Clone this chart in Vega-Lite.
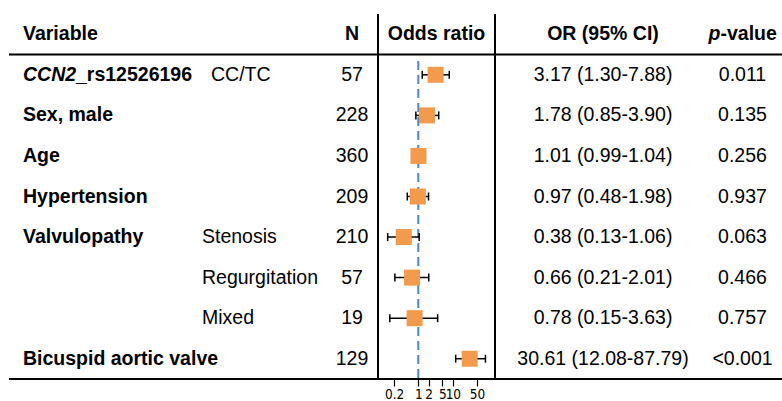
{
  "$schema": "https://vega.github.io/schema/vega-lite/v6.json",
  "padding": {"left": 8, "top": 13, "right": 0, "bottom": 0},
  "autosize": {"type": "pad"},
  "spacing": 0,
  "bounds": "flush",
  "config": {
    "view": {"stroke": null},
    "font": "Liberation Sans",
    "text": {"font": "Liberation Sans", "fontSize": 19.5, "baseline": "middle", "color": "#000"},
    "axisX": {"labelFontSize": 13.5, "labelColor": "#000", "labelFont": "Liberation Sans Narrow, DejaVu Sans Condensed, Liberation Sans", "tickColor": "#000", "tickSize": 7, "tickWidth": 1.2, "labelPadding": 1, "grid": false, "domain": false, "title": null, "labelFlush": false, "labelOverlap": false}
  },
  "datasets": {
    "rows": [
      {"row": 1, "lab": "", "it": "CCN2", "suf": "_rs12526196", "sub": "", "sub2": "CC/TC", "n": "57", "or": 3.17, "lo": 1.30, "hi": 7.88, "ci": "3.17 (1.30-7.88)", "p": "0.011"},
      {"row": 2, "lab": "Sex, male", "it": "", "suf": "", "sub": "", "sub2": "", "n": "228", "or": 1.78, "lo": 0.85, "hi": 3.90, "ci": "1.78 (0.85-3.90)", "p": "0.135"},
      {"row": 3, "lab": "Age", "it": "", "suf": "", "sub": "", "sub2": "", "n": "360", "or": 1.01, "lo": 0.99, "hi": 1.04, "ci": "1.01 (0.99-1.04)", "p": "0.256"},
      {"row": 4, "lab": "Hypertension", "it": "", "suf": "", "sub": "", "sub2": "", "n": "209", "or": 0.97, "lo": 0.48, "hi": 1.98, "ci": "0.97 (0.48-1.98)", "p": "0.937"},
      {"row": 5, "lab": "Valvulopathy", "it": "", "suf": "", "sub": "Stenosis", "sub2": "", "n": "210", "or": 0.38, "lo": 0.13, "hi": 1.06, "ci": "0.38 (0.13-1.06)", "p": "0.063"},
      {"row": 6, "lab": "", "it": "", "suf": "", "sub": "Regurgitation", "sub2": "", "n": "57", "or": 0.66, "lo": 0.21, "hi": 2.01, "ci": "0.66 (0.21-2.01)", "p": "0.466"},
      {"row": 7, "lab": "", "it": "", "suf": "", "sub": "Mixed", "sub2": "", "n": "19", "or": 0.78, "lo": 0.15, "hi": 3.63, "ci": "0.78 (0.15-3.63)", "p": "0.757"},
      {"row": 8, "lab": "Bicuspid aortic valve", "it": "", "suf": "", "sub": "", "sub2": "", "n": "129", "or": 30.61, "lo": 12.08, "hi": 87.79, "ci": "30.61 (12.08-87.79)", "p": "<0.001"}
    ]
  },
  "hconcat": [
    {
      "width": 187, "height": 365,
      "data": {"name": "rows"},
      "layer": [
        {"data": {"values": [{"h": "Variable"}]}, "mark": {"type": "text", "align": "left", "dx": 14, "fontWeight": "bold"},
         "encoding": {"x": {"value": 0}, "y": {"datum": 0, "type": "quantitative", "scale": {"domain": [-0.5, 8.5], "reverse": true, "nice": false, "zero": false}, "axis": null}, "text": {"field": "h"}}},
        {"mark": {"type": "text", "align": "left", "dx": 14, "fontWeight": "bold"},
         "encoding": {"x": {"value": 0}, "y": {"field": "row", "type": "quantitative", "axis": null}, "text": {"field": "lab"}}},
        {"mark": {"type": "text", "align": "left", "dx": 14, "fontWeight": "bold", "fontStyle": "italic"},
         "encoding": {"x": {"value": 0}, "y": {"field": "row", "type": "quantitative", "axis": null}, "text": {"field": "it"}}},
        {"mark": {"type": "text", "align": "left", "dx": 67, "fontWeight": "bold"},
         "encoding": {"x": {"value": 0}, "y": {"field": "row", "type": "quantitative", "axis": null}, "text": {"field": "suf"}}},
        {"data": {"values": [{}]}, "mark": {"type": "rule", "color": "#000", "strokeWidth": 2},
         "encoding": {"x": {"value": 0}, "x2": {"value": "width"}, "y": {"datum": 0.5, "type": "quantitative", "axis": null}}},
        {"data": {"values": [{}]}, "mark": {"type": "rule", "color": "#000", "strokeWidth": 2},
         "encoding": {"x": {"value": 0}, "x2": {"value": "width"}, "y": {"datum": 8.5, "type": "quantitative", "axis": null}}}
      ]
    },
    {
      "width": 130, "height": 365,
      "data": {"name": "rows"},
      "layer": [
        {"mark": {"type": "text", "align": "left", "dx": 6},
         "encoding": {"x": {"value": 0}, "y": {"field": "row", "type": "quantitative", "scale": {"domain": [-0.5, 8.5], "reverse": true, "nice": false, "zero": false}, "axis": null}, "text": {"field": "sub"}}},
        {"mark": {"type": "text", "align": "left", "dx": 15},
         "encoding": {"x": {"value": 0}, "y": {"field": "row", "type": "quantitative", "axis": null}, "text": {"field": "sub2"}}},
        {"data": {"values": [{}]}, "mark": {"type": "rule", "color": "#000", "strokeWidth": 2},
         "encoding": {"x": {"value": 0}, "x2": {"value": "width"}, "y": {"datum": 0.5, "type": "quantitative", "axis": null}}},
        {"data": {"values": [{}]}, "mark": {"type": "rule", "color": "#000", "strokeWidth": 2},
         "encoding": {"x": {"value": 0}, "x2": {"value": "width"}, "y": {"datum": 8.5, "type": "quantitative", "axis": null}}}
      ]
    },
    {
      "width": 52, "height": 365,
      "data": {"name": "rows"},
      "layer": [
        {"data": {"values": [{"h": "N"}]}, "mark": {"type": "text", "fontWeight": "bold"},
         "encoding": {"y": {"datum": 0, "type": "quantitative", "scale": {"domain": [-0.5, 8.5], "reverse": true, "nice": false, "zero": false}, "axis": null}, "text": {"field": "h"}}},
        {"mark": {"type": "text"},
         "encoding": {"y": {"field": "row", "type": "quantitative", "axis": null}, "text": {"field": "n"}}},
        {"data": {"values": [{}]}, "mark": {"type": "rule", "color": "#000", "strokeWidth": 2},
         "encoding": {"x": {"value": 0}, "x2": {"value": "width"}, "y": {"datum": 0.5, "type": "quantitative", "axis": null}}},
        {"data": {"values": [{}]}, "mark": {"type": "rule", "color": "#000", "strokeWidth": 2},
         "encoding": {"x": {"value": 0}, "x2": {"value": "width"}, "y": {"datum": 8.5, "type": "quantitative", "axis": null}}}
      ]
    },
    {
      "width": 117, "height": 365,
      "data": {"name": "rows"},
      "layer": [
        {"data": {"values": [{}]}, "mark": {"type": "rule", "color": "#000", "strokeWidth": 2},
         "encoding": {"x": {"value": 0}, "x2": {"value": "width"}, "y": {"datum": 0.5, "type": "quantitative", "scale": {"domain": [-0.5, 8.5], "reverse": true, "nice": false, "zero": false}, "axis": null}}},
        {"data": {"values": [{}]}, "mark": {"type": "rule", "color": "#000", "strokeWidth": 2},
         "encoding": {"x": {"value": 0}, "x2": {"value": "width"}, "y": {"datum": 8.5, "type": "quantitative", "axis": null}}},
        {"data": {"values": [{}]}, "mark": {"type": "rule", "color": "#000", "strokeWidth": 2},
         "encoding": {"x": {"value": 0}, "y": {"datum": -0.5, "type": "quantitative", "axis": null}, "y2": {"datum": 8.5}}},
        {"data": {"values": [{}]}, "mark": {"type": "rule", "color": "#000", "strokeWidth": 2},
         "encoding": {"x": {"value": "width"}, "y": {"datum": -0.5, "type": "quantitative", "axis": null}, "y2": {"datum": 8.5}}},
        {"data": {"values": [{"h": "Odds ratio"}]}, "mark": {"type": "text", "fontWeight": "bold"},
         "encoding": {"y": {"datum": 0, "type": "quantitative", "axis": null}, "text": {"field": "h"}}},
        {"data": {"values": [{}]}, "mark": {"type": "rule", "color": "#4f86c6", "strokeWidth": 2, "strokeDash": [9, 5]},
         "encoding": {
           "x": {"datum": 1, "type": "quantitative", "scale": {"type": "log", "domain": [0.0682, 166], "nice": false, "zero": false},
                 "axis": {"values": [0.2, 1, 2, 5, 10, 50], "format": "~g", "title": null}},
           "y": {"datum": 0.66, "type": "quantitative", "axis": null}, "y2": {"datum": 8.5}}},
        {"mark": {"type": "rule", "color": "#000", "strokeWidth": 1.5},
         "encoding": {"x": {"field": "lo", "type": "quantitative", "axis": {"values": [0.2, 1, 2, 5, 10, 50], "format": "~g", "title": null}}, "x2": {"field": "hi"}, "y": {"field": "row", "type": "quantitative", "axis": null}}},
        {"mark": {"type": "tick", "orient": "vertical", "color": "#000", "size": 8, "thickness": 1.5, "opacity": 1},
         "encoding": {"x": {"field": "lo", "type": "quantitative", "axis": {"values": [0.2, 1, 2, 5, 10, 50], "format": "~g", "title": null}}, "y": {"field": "row", "type": "quantitative", "axis": null}}},
        {"mark": {"type": "tick", "orient": "vertical", "color": "#000", "size": 8, "thickness": 1.5, "opacity": 1},
         "encoding": {"x": {"field": "hi", "type": "quantitative", "axis": {"values": [0.2, 1, 2, 5, 10, 50], "format": "~g", "title": null}}, "y": {"field": "row", "type": "quantitative", "axis": null}}},
        {"mark": {"type": "square", "filled": true, "color": "#F49A4C", "size": 256, "opacity": 1},
         "encoding": {"x": {"field": "or", "type": "quantitative", "axis": {"values": [0.2, 1, 2, 5, 10, 50], "format": "~g", "title": null}}, "y": {"field": "row", "type": "quantitative", "axis": null}}}
      ]
    },
    {
      "width": 210, "height": 365,
      "data": {"name": "rows"},
      "layer": [
        {"data": {"values": [{"h": "OR (95% CI)"}]}, "mark": {"type": "text", "fontWeight": "bold", "dx": 3},
         "encoding": {"y": {"datum": 0, "type": "quantitative", "scale": {"domain": [-0.5, 8.5], "reverse": true, "nice": false, "zero": false}, "axis": null}, "text": {"field": "h"}}},
        {"mark": {"type": "text", "dx": 3},
         "encoding": {"y": {"field": "row", "type": "quantitative", "axis": null}, "text": {"field": "ci"}}},
        {"data": {"values": [{}]}, "mark": {"type": "rule", "color": "#000", "strokeWidth": 2},
         "encoding": {"x": {"value": 0}, "x2": {"value": "width"}, "y": {"datum": 0.5, "type": "quantitative", "axis": null}}},
        {"data": {"values": [{}]}, "mark": {"type": "rule", "color": "#000", "strokeWidth": 2},
         "encoding": {"x": {"value": 0}, "x2": {"value": "width"}, "y": {"datum": 8.5, "type": "quantitative", "axis": null}}}
      ]
    },
    {
      "width": 78, "height": 365,
      "data": {"name": "rows"},
      "layer": [
        {"data": {"values": [{"h": "p"}]}, "mark": {"type": "text", "fontWeight": "bold", "fontStyle": "italic", "align": "right", "dx": -23.5},
         "encoding": {"y": {"datum": 0, "type": "quantitative", "scale": {"domain": [-0.5, 8.5], "reverse": true, "nice": false, "zero": false}, "axis": null}, "text": {"field": "h"}}},
        {"data": {"values": [{"h": "-value"}]}, "mark": {"type": "text", "fontWeight": "bold", "align": "left", "dx": -23.5},
         "encoding": {"y": {"datum": 0, "type": "quantitative", "axis": null}, "text": {"field": "h"}}},
        {"mark": {"type": "text", "dx": -1.5},
         "encoding": {"y": {"field": "row", "type": "quantitative", "axis": null}, "text": {"field": "p"}}},
        {"data": {"values": [{}]}, "mark": {"type": "rule", "color": "#000", "strokeWidth": 2},
         "encoding": {"x": {"value": 0}, "x2": {"value": "width"}, "y": {"datum": 0.5, "type": "quantitative", "axis": null}}},
        {"data": {"values": [{}]}, "mark": {"type": "rule", "color": "#000", "strokeWidth": 2},
         "encoding": {"x": {"value": 0}, "x2": {"value": "width"}, "y": {"datum": 8.5, "type": "quantitative", "axis": null}}}
      ]
    }
  ]
}
